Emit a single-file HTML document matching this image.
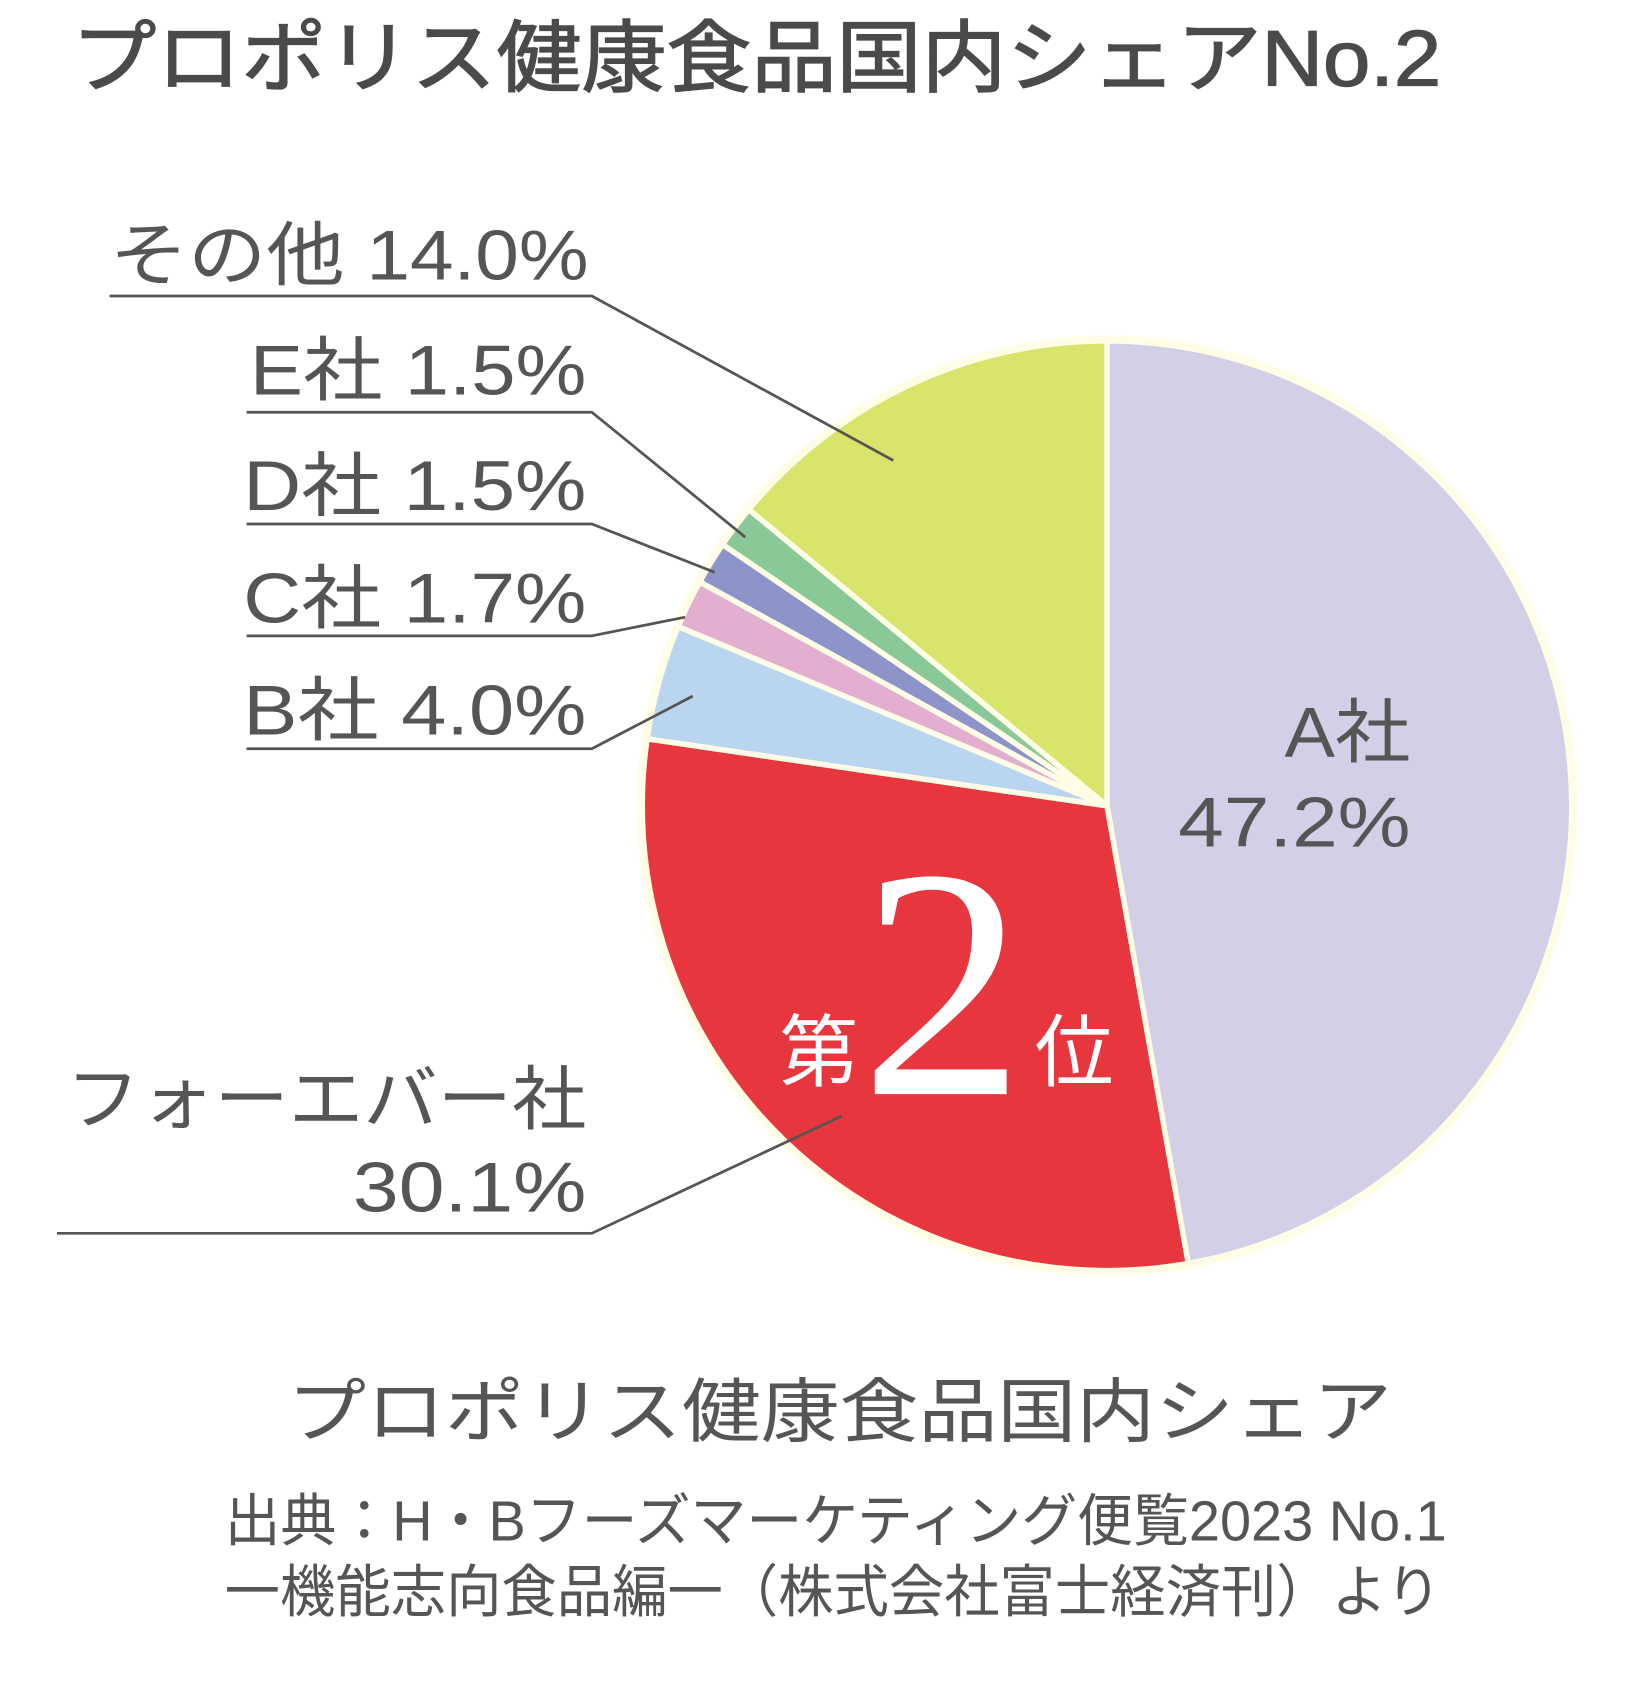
<!DOCTYPE html>
<html><head><meta charset="utf-8"><style>
html,body{margin:0;padding:0;background:#fff;}
svg{display:block;}
.t{font-family:"Liberation Sans","Noto Sans CJK JP",sans-serif;fill:#555;}
</style></head><body>
<svg id="chart" width="1644" height="1708" viewBox="0 0 1500 1558" preserveAspectRatio="none" xmlns="http://www.w3.org/2000/svg">
<text class="t" x="65" y="78" font-size="72" style="fill:#4a4a4a;stroke:#4a4a4a;stroke-width:1.2" textLength="1250" lengthAdjust="spacingAndGlyphs">プロポリス健康食品国内シェアNo.2</text>
<g id="pie"></g>
<g id="labels" font-size="64">
<text class="t" x="100" y="255" textLength="437" lengthAdjust="spacingAndGlyphs">その他 14.0%</text>
<text class="t" x="228" y="360" textLength="307" lengthAdjust="spacingAndGlyphs">E社 1.5%</text>
<text class="t" x="222" y="465" textLength="313" lengthAdjust="spacingAndGlyphs">D社 1.5%</text>
<text class="t" x="222" y="568" textLength="313" lengthAdjust="spacingAndGlyphs">C社 1.7%</text>
<text class="t" x="222" y="670" textLength="313" lengthAdjust="spacingAndGlyphs">B社 4.0%</text>
<text class="t" x="60" y="1025" textLength="475" lengthAdjust="spacingAndGlyphs">フォーエバー社</text>
<text class="t" x="322" y="1105" textLength="213" lengthAdjust="spacingAndGlyphs">30.1%</text>
<text class="t" x="1172" y="690" textLength="115" lengthAdjust="spacingAndGlyphs">A社</text>
<text class="t" x="1075" y="772" textLength="212" lengthAdjust="spacingAndGlyphs">47.2%</text>
</g>
<g stroke="#555" stroke-width="2.5" fill="none">
<polyline points="100,270 540,270 815,420"/>
<polyline points="225,376 540,376 680,490"/>
<polyline points="225,478 540,478 652,522"/>
<polyline points="225,580 540,580 625,563"/>
<polyline points="225,683 540,683 632,635"/>
<polyline points="52,1125 540,1125 768,1018"/>
</g>
<g>
<text class="t" x="747" y="985" font-size="72" text-anchor="middle" style="fill:#fff">第</text>
<text x="860" y="998" font-size="300" text-anchor="middle" font-family="Liberation Serif, DejaVu Serif, serif" style="fill:#fff;font-family:'Liberation Serif','DejaVu Serif',serif">2</text>
<text class="t" x="980" y="985" font-size="72" text-anchor="middle" style="fill:#fff">位</text>
</g>
<text class="t" x="262" y="1310" font-size="64" textLength="1008" lengthAdjust="spacingAndGlyphs">プロポリス健康食品国内シェア</text>
<text class="t" x="205" y="1405" font-size="52" textLength="1115" lengthAdjust="spacingAndGlyphs">出典：H・Bフーズマーケティング便覧2023 No.1</text>
<text class="t" x="205" y="1470" font-size="52" textLength="1110" lengthAdjust="spacingAndGlyphs">一機能志向食品編一（株式会社富士経済刊）より</text>
</svg>
<script>
const categories = ["A社","フォーエバー社","B社","C社","D社","E社","その他"];
const shares = [47.2, 30.1, 4.0, 1.7, 1.5, 1.5, 14.0];
const colors = ["#d3cfe6","#e8363f","#bad5ef","#e3aed0","#8c94c9","#89c997","#d9e46b"];
const cx = 1010, cy = 735, r = 424;
const NS = "http://www.w3.org/2000/svg";
const pie = document.getElementById('pie');
const bg = document.createElementNS(NS,'circle');


bg.setAttribute('cx',cx);bg.setAttribute('cy',cy);bg.setAttribute('r',r+5);
bg.setAttribute('fill','#fffde6');
pie.appendChild(bg);
const total = shares.reduce((a,b)=>a+b,0);
function pt(frac){const a=frac*2*Math.PI;return [cx+r*Math.sin(a), cy-r*Math.cos(a)];}
let acc = 0;
shares.forEach((v,i)=>{
  const s = acc/total, e = (acc+v)/total; acc += v;
  const [x1,y1]=pt(s),[x2,y2]=pt(e);
  const large = (e-s)>0.5?1:0;
  const p = document.createElementNS(NS,'path');
  
  
  p.setAttribute('d',`M${cx},${cy} L${x1},${y1} A${r},${r} 0 ${large} 1 ${x2},${y2} Z`);
  p.setAttribute('fill',colors[i]);
  p.setAttribute('stroke','#fffde6');
  p.setAttribute('stroke-width','5');
  p.setAttribute('stroke-linejoin','round');
  pie.appendChild(p);
});
</script>
</body></html>
